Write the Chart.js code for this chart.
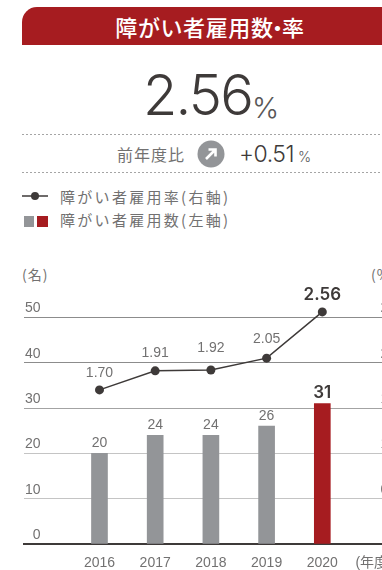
<!DOCTYPE html>
<html lang="ja">
<head>
    <meta charset="UTF-8">
    <title>障がい者雇用数・率</title>
    <script src="https://cdn.jsdelivr.net/npm/chart.js"></script>
    <style>
        html, body {
            margin: 0;
            width: 382px;
            height: 570px;
            overflow: hidden;
            background: #fff;
            position: relative;
            font-family: "Noto Sans CJK JP", sans-serif;
            color: #727171;
        }

        .abs { position: absolute; white-space: nowrap; line-height: 1; }

        #header {
            left: 22px; top: 7px; width: 376px; height: 38px;
            background: #a61c20;
            border-top-left-radius: 15px;
            color: #fff;
            font-size: 22px;
            font-weight: 500;
            letter-spacing: 0.6px;
            line-height: 38px;
            text-align: center;
        }
        #header span { margin: 0 -7px; }

        .num { font-family: Inter, sans-serif; font-weight: 300; color: #3e3a39; }

        .dots {
            left: 22px; width: 360px; height: 1px;
            background: repeating-linear-gradient(to right, #a5a5a5 0 2px, transparent 2px 4px);
        }

        .legend-text { left: 60px; font-size: 15px; letter-spacing: 2.3px; }
        .axis-unit { font-size: 14px; letter-spacing: 1px; }

        #chartBox { position: absolute; left: 0; top: 250px; width: 405px; height: 320px; }
    </style>
</head>
<body>
    <div id="header" class="abs">障がい者雇用数<span>・</span>率</div>

    <div class="abs num" style="left:143px;top:67px;font-size:56px;letter-spacing:-1.8px;">2.56</div>
    <div class="abs num" style="left:252px;top:93px;font-size:29px;color:#595757;">%</div>

    <div class="abs dots" style="top:134px;"></div>
    <div class="abs" style="left:117px;top:146px;font-size:16px;letter-spacing:1px;">前年度比</div>
    <svg class="abs" style="left:197px;top:140px;" width="28" height="28" viewBox="0 0 28 28">
        <circle cx="14" cy="14" r="13.5" fill="#939598"/>
        <path d="M9 19 L18 10 M11.5 9.5 H18.5 V16.5" fill="none" stroke="#fff" stroke-width="2.6"/>
    </svg>
    <div class="abs num" style="left:239px;top:143px;font-size:23px;letter-spacing:-0.5px;">+0.51</div>
    <div class="abs num" style="left:298px;top:150px;font-size:14px;color:#595757;">%</div>
    <div class="abs dots" style="top:172px;"></div>

    <svg class="abs" style="left:22px;top:190px;" width="26" height="12">
        <line x1="0" y1="6" x2="26" y2="6" stroke="#3e3a39" stroke-width="1.5"/>
        <circle cx="13" cy="6" r="4" fill="#3e3a39"/>
    </svg>
    <div class="abs legend-text" style="top:189px;">障がい者雇用率(右軸)</div>
    <div class="abs" style="left:24px;top:216px;width:10px;height:11px;background:#939598;"></div>
    <div class="abs" style="left:37px;top:216px;width:11px;height:11px;background:#a61c20;"></div>
    <div class="abs legend-text" style="top:212px;">障がい者雇用数(左軸)</div>

    <div class="abs axis-unit" style="left:22px;top:267px;">(名)</div>
    <div class="abs axis-unit" style="left:371px;top:267px;">(%)</div>

    <div id="chartBox"><canvas id="employmentChart"></canvas></div>

    <script>
        const years = [2016, 2017, 2018, 2019, 2020];
        const employees = [20, 24, 24, 26, 31];
        const rates = [1.70, 1.91, 1.92, 2.05, 2.56];
        const countTicks = [0, 10, 20, 30, 40, 50];
        const rateTicks = [0, 0.5, 1.0, 1.5, 2.0, 2.5];

        const GREY = '#939598';
        const RED = '#a61c20';
        const INK = '#3e3a39';
        const TEXT = '#727171';
        const FONT = '"Liberation Sans", "Noto Sans CJK JP", sans-serif';

        // how far each rate label sits above its point
        const rateLabelLift = [17, 18, 22, 19, 17];

        // value labels over bars and points, the latest year is bold
        const valueLabels = {
            id: 'valueLabels',
            afterDatasetsDraw(chart) {
                const ctx = chart.ctx;
                const points = chart.getDatasetMeta(0).data;
                const bars = chart.getDatasetMeta(1).data;
                const last = years.length - 1;
                ctx.save();
                ctx.textAlign = 'center';
                ctx.textBaseline = 'middle';
                years.forEach((year, i) => {
                    const bold = i === last;
                    ctx.fillStyle = bold ? INK : TEXT;
                    ctx.font = bold ? '600 17px Inter, sans-serif' : '14px ' + FONT;
                    ctx.fillText(employees[i], bars[i].x, bars[i].y - (bold ? 11 : 10));
                    ctx.fillText(rates[i].toFixed(2), points[i].x, points[i].y - rateLabelLift[i]);
                });
                ctx.restore();
            }
        };

        function gridColor(context) {
            const v = context.tick.value;
            if (v >= 40) return '#8c8c8c';
            if (v >= 30) return '#a3a3a3';
            return '#c4c4c4';
        }

        new Chart(document.getElementById('employmentChart'), {
            data: {
                datasets: [
                    {
                        type: 'line',
                        order: 0,
                        yAxisID: 'yRate',
                        data: years.map((year, i) => ({ x: year, y: rates[i] })),
                        borderColor: INK,
                        borderWidth: 1.5,
                        backgroundColor: INK,
                        pointRadius: 4.5,
                        pointBorderWidth: 0,
                        tension: 0,
                        clip: false
                    },
                    {
                        type: 'bar',
                        order: 1,
                        yAxisID: 'yCount',
                        data: years.map((year, i) => ({ x: year, y: employees[i] })),
                        backgroundColor: years.map((year, i) => i === years.length - 1 ? RED : GREY),
                        barThickness: 16
                    }
                ]
            },
            options: {
                responsive: true,
                maintainAspectRatio: false,
                animation: false,
                layout: { padding: { left: 22, top: 44.7, right: 0, bottom: 0 } },
                plugins: { legend: { display: false }, tooltip: { enabled: false } },
                scales: {
                    x: {
                        type: 'linear',
                        bounds: 'data',
                        offset: false,
                        min: 2014.645,
                        max: 2021.305,
                        grid: { display: false, offset: false },
                        border: { color: INK, width: 2 },
                        afterFit(scale) { scale.height = 26; },
                        // one tick per year plus the unit label after the last one
                        afterBuildTicks(scale) {
                            scale.ticks = years.concat(2021).map(value => ({ value }));
                        },
                        ticks: {
                            autoSkip: false,
                            maxRotation: 0,
                            padding: 3,
                            color: TEXT,
                            font: { family: FONT, size: 14 },
                            callback: value => value === 2021 ? '(年度)  ' : String(value)
                        }
                    },
                    // both value axes run a little past the top gridline so the 2.56 point stays in the area
                    yCount: {
                        position: 'left',
                        bounds: 'data',
                        min: 0,
                        max: 55,
                        afterBuildTicks(scale) {
                            scale.ticks = countTicks.map(value => ({ value }));
                        },
                        border: { display: false },
                        grid: { color: gridColor, drawTicks: false },
                        ticks: {
                            mirror: true,
                            padding: 1,
                            labelOffset: -9,
                            color: TEXT,
                            font: { family: FONT, size: 14 },
                            // figure space keeps the single digit right aligned
                            callback: value => String(value).padStart(2, '\u2007')
                        }
                    },
                    yRate: {
                        position: 'right',
                        bounds: 'data',
                        min: 0,
                        max: 2.75,
                        afterBuildTicks(scale) {
                            scale.ticks = rateTicks.map(value => ({ value }));
                        },
                        border: { display: false },
                        grid: { drawOnChartArea: false, drawTicks: false },
                        ticks: {
                            mirror: true,
                            padding: 5,
                            labelOffset: -9,
                            color: TEXT,
                            font: { family: FONT, size: 14 },
                            callback: value => value === 0 ? '0' : value.toFixed(1)
                        }
                    }
                }
            },
            plugins: [valueLabels]
        });
    </script>
</body>
</html>
